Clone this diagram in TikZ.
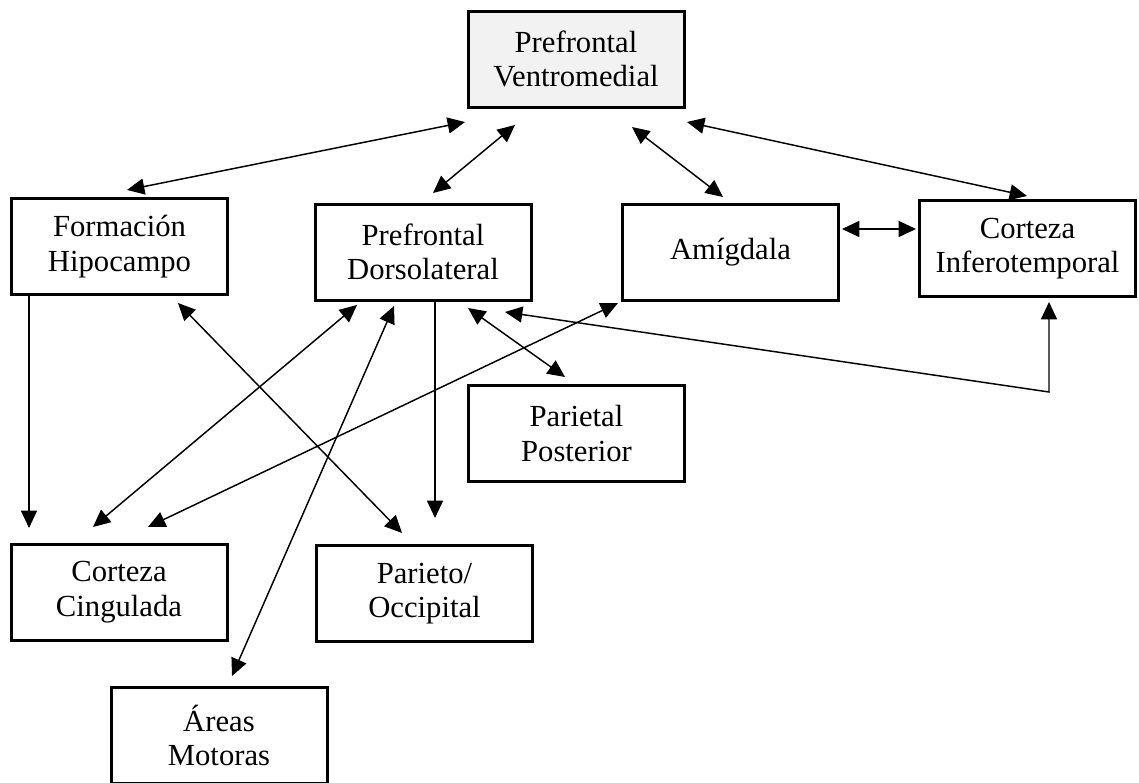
\documentclass[tikz,border=0pt]{standalone}
\usepackage{fontspec}
\setmainfont{Liberation Serif}
\usetikzlibrary{arrows.meta,calc}

\tikzset{
  area/.style={draw=black, line width=2.25pt, fill=white, outer sep=0pt,
    minimum width=162pt, minimum height=72pt, inner sep=0pt,
    align=center, font=\fontsize{23}{26}\selectfont},
  link/.style={line width=1.1pt, black},
  tip/.style={-{Triangle[length=13pt,width=12pt]}},
  both/.style={{Triangle[length=13pt,width=12pt]}-{Triangle[length=13pt,width=12pt]}}
}

\begin{document}
\begin{tikzpicture}[x=0.75pt,y=-0.75pt]
\useasboundingbox (0,0) rectangle (1139,782);

% brain areas
\node[area, fill={rgb,255:red,242;green,242;blue,242}] (vm) at (576,59) {Prefrontal\\Ventromedial};
\node[area] (fh) at (119.5,246.5) {Formación\\Hipocampo};
\node[area] (dl) at (423,252) {Prefrontal\\Dorsolateral};
\node[area] (am) at (730.5,252) {Amígdala};
\node[area] (ci) at (1027.5,248.5) {Corteza\\Inferotemporal};
\node[area] (pp) at (576.5,433.5) {Parietal\\Posterior};
\node[area] (cc) at (119,592) {Corteza\\Cingulada};
\node[area] (po) at (424.5,593.5) {Parieto/\\Occipital};
\node[area] (mo) at (219,735.5) {Áreas\\Motoras};

\coordinate (bend) at (1049,392);

% connections of the ventromedial cortex
\draw[link,both] ([shift={(-111,63)}]vm.center) -- ([shift={(7.5,-56.5)}]fh.center);
\draw[link,both] ([shift={(-61,66)}]vm.center) -- ([shift={(10,-59)}]dl.center);
\draw[link,both] ([shift={(56,68)}]vm.center) -- ([shift={(-7.5,-55)}]am.center);
\draw[link,both] ([shift={(111,63)}]vm.center) -- ([shift={(-0.5,-52.5)}]ci.center);

% amygdala and inferotemporal cortex
\draw[link,both] ([shift={(111.5,-23)}]am.center) -- ([shift={(-111.5,-19.5)}]ci.center);

% hippocampal formation
\draw[link,tip] ([shift={(-90.5,49.5)}]fh.center) -- ([shift={(-90,-64)}]cc.center);
\draw[link,both] ([shift={(58.5,56.5)}]fh.center) -- ([shift={(-22.5,-60.5)}]po.center);

% dorsolateral prefrontal cortex
\draw[link,both] ([shift={(-66,53)}]dl.center) -- ([shift={(-26,-65)}]cc.center);
\draw[link,both] ([shift={(-29,54)}]dl.center) -- ([shift={(13,-59.5)}]mo.center);
\draw[link,tip] ([shift={(12,49)}]dl.center) -- ([shift={(10.5,-75.5)}]po.center);
\draw[link,both] ([shift={(45,56)}]dl.center) -- ([shift={(-11.5,-56.5)}]pp.center);
\draw[link,both] ([shift={(82,60)}]dl.center) -- (bend) -- ([shift={(21.5,53.5)}]ci.center);

% amygdala to cingulate cortex
\draw[link,both] ([shift={(-112.5,51)}]am.center) -- ([shift={(29,-65)}]cc.center);
\end{tikzpicture}
\end{document}
